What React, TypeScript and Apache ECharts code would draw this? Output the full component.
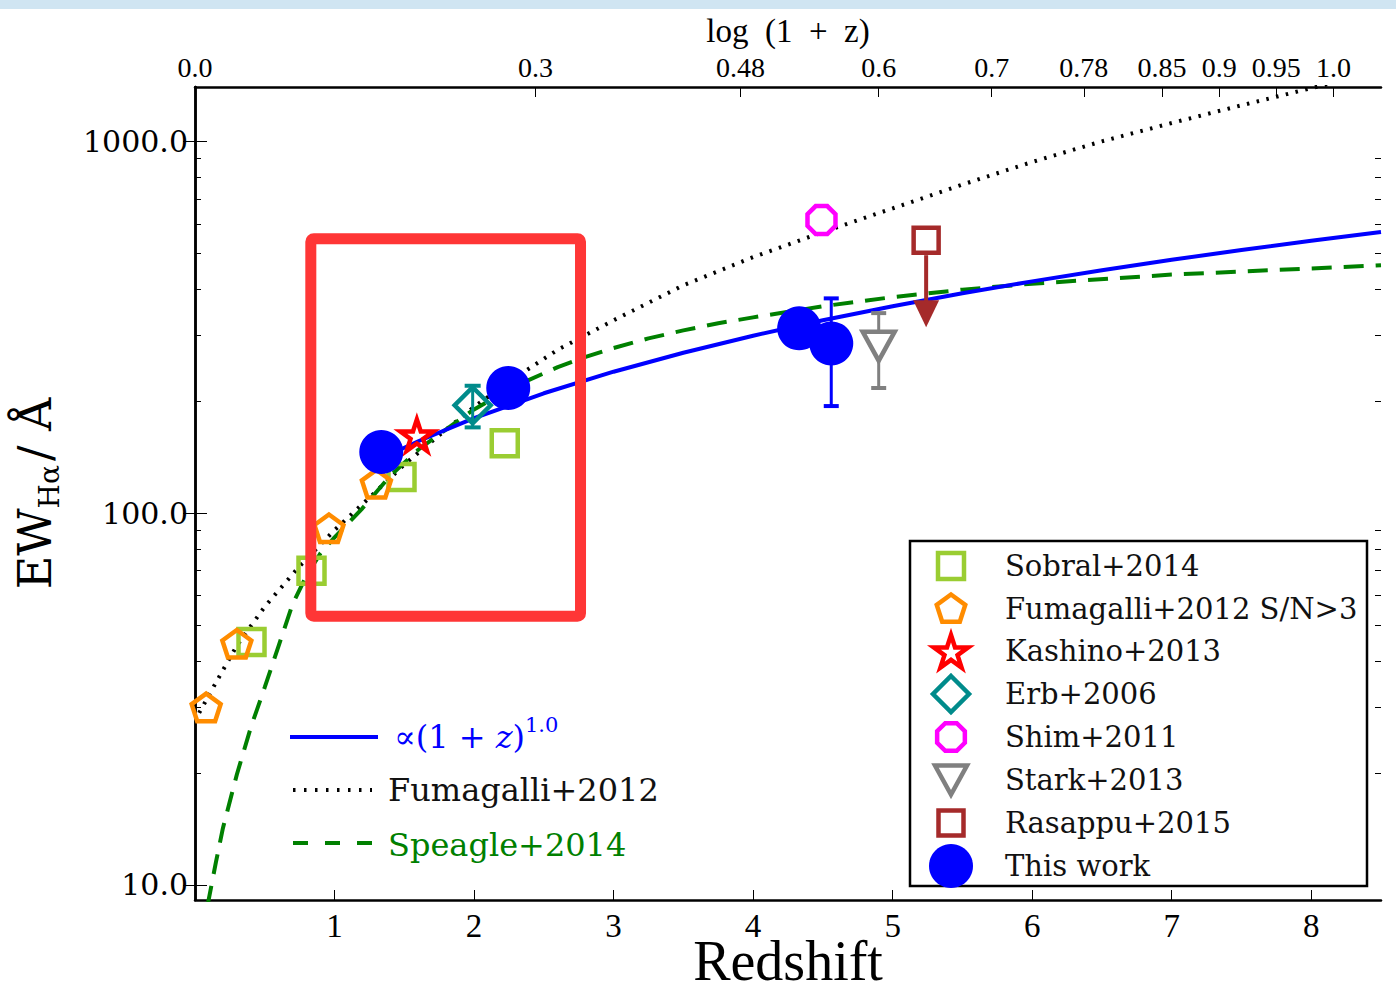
import React, { useEffect, useRef } from 'react';
import * as echarts from 'echarts';

const SERIF = '"DejaVu Serif", serif';
const NARROW = '"Liberation Serif", serif';

// ---- observations (redshift, EW in Angstrom) ----
const sobralZ = [0.405, 0.835, 1.48, 2.22];
const sobralEW = [45, 70, 125, 154];

const fumaZ = [0.08, 0.3, 0.96, 1.3];
const fumaEW = [30, 44.5, 91, 120];

const kashinoZ = [1.59];
const kashinoEW = [162];

const erbZ = [1.99];
const erbEW = [195];
const erbErr = [25];

const shimZ = [4.49];
const shimEW = [614];

const starkZ = [4.9];
const starkEW = [281];
const starkErr = [64];

const rasappuZ = [5.24];
const rasappuEW = [542];
const rasappuLimitTo = [316];

const thisZ = [1.335, 2.245, 4.33, 4.56];
const thisEW = [146, 217, 314, 286];
const thisErr = [null, null, null, 92];

// ---- model curves ----
const fitZ = [1.33, 1.6, 2, 2.5, 3, 3.5, 4, 4.5, 5, 5.5, 6, 6.5, 7, 7.5, 8, 8.5];
const fitEW = [140, 156, 180, 210, 240, 270, 300, 330, 360, 390, 420, 450, 480, 510, 540, 570];

const fumaCurveZ = [0.03, 0.15, 0.3, 0.5, 0.75, 1.0, 1.25, 1.5, 1.75, 2.0, 2.3, 2.6, 3.0, 3.5, 4.0, 4.5, 5.0, 5.5, 6.0, 6.5, 7.0, 7.5, 8.0, 8.5];
const fumaCurveEW = [29, 35, 44, 56, 72, 90, 110, 135, 162, 193, 232, 275, 330, 410, 488, 570, 660, 765, 880, 1000, 1120, 1250, 1390, 1540];

const speagleZ = [0.09, 0.15, 0.2, 0.3, 0.4, 0.5, 0.6, 0.7, 0.8, 0.9, 1.0, 1.1, 1.2, 1.4, 1.6, 1.8, 2.0, 2.3, 2.6, 2.8, 3.0, 3.25, 3.5, 3.75, 4.0, 4.5, 5.0, 5.5, 6.0, 7.0, 8.0, 8.5];
const speagleEW = [8.8, 11.5, 14.2, 19.8, 26.5, 34, 44, 57, 68, 78, 86, 94, 103, 126, 148, 168, 190, 220, 247, 263, 278, 295, 310, 324, 336, 360, 381, 399, 414, 438, 455, 464];

// highlighted region: [z0, EW top, z1, EW bottom]
const highlightBox = [0.83, 547, 2.763, 52.8];

// ---- axes ----
const bottomTicks = [1, 2, 3, 4, 5, 6, 7, 8];
const topTickZ = [0, 2.44, 3.91, 4.9, 5.71, 6.37, 6.93, 7.34, 7.75, 8.16];
const topTickLabels = ['0.0', '0.3', '0.48', '0.6', '0.7', '0.78', '0.85', '0.9', '0.95', '1.0'];
const yMajor = [10, 100, 1000];
const yMinor = [20, 30, 40, 50, 60, 70, 80, 90, 200, 300, 400, 500, 600, 700, 800, 900];
const Y_MIN = 9.1;
const Y_MAX = 1400;
const Z_MIN = 0;
const Z_MAX = 8.5;

// ---- colours ----
const C_SOBRAL = '#9ACD32';
const C_FUMA = '#FF8C00';
const C_KASHINO = '#FF0000';
const C_ERB = '#008B8B';
const C_SHIM = '#FF00FF';
const C_STARK = '#808080';
const C_RASAPPU = '#A52A2A';
const C_THIS = '#0000FF';
const C_SPEAGLE = '#008000';

// ---- marker outlines (unit coordinates) ----
const PENTAGON_PTS = [[0, -1], [0.951, -0.309], [0.588, 0.809], [-0.588, 0.809], [-0.951, -0.309]];
const STAR_PTS = [[0, -1], [0.2245, -0.309], [0.951, -0.309], [0.3633, 0.118], [0.5878, 0.809], [0, 0.382], [-0.5878, 0.809], [-0.3633, 0.118], [-0.951, -0.309], [-0.2245, -0.309]];
const OCTAGON_PTS = [[0.9239, 0.3827], [0.3827, 0.9239], [-0.3827, 0.9239], [-0.9239, 0.3827], [-0.9239, -0.3827], [-0.3827, -0.9239], [0.3827, -0.9239], [0.9239, -0.3827]];
const TRI_DOWN_PTS = [[-1, -1], [1, -1], [0, 1]];
const DIAMOND_PTS = [[0, -1], [1, 0], [0, 1], [-1, 0]];

const toPath = (pts: number[][]) =>
  'path://' + pts.map((p, i) => (i ? 'L' : 'M') + (p[0] * 100).toFixed(2) + ',' + (p[1] * 100).toFixed(2)).join('') + 'Z';

const zip = (xs: number[], ys: number[]) => xs.map((x, i) => [x, ys[i]]);

const hollow = (color: string, fill = 'rgba(0,0,0,0)') => ({ color: fill, borderColor: color, borderWidth: 4.5, opacity: 1 });

const errorBarRenderer = (color: string, cap: number) => (params: any, api: any) => {
  const z = api.value(0);
  const hi = api.coord([z, api.value(2)]);
  const lo = api.coord([z, api.value(1)]);
  const style = { stroke: color, lineWidth: 3 };
  const capStyle = { stroke: color, lineWidth: 4 };
  return {
    type: 'group',
    children: [
      { type: 'line', shape: { x1: hi[0], y1: hi[1], x2: lo[0], y2: lo[1] }, style },
      { type: 'line', shape: { x1: hi[0] - cap, y1: hi[1], x2: hi[0] + cap, y2: hi[1] }, style: capStyle },
      { type: 'line', shape: { x1: lo[0] - cap, y1: lo[1], x2: lo[0] + cap, y2: lo[1] }, style: capStyle },
    ],
  };
};

const arrowRenderer = (color: string) => (params: any, api: any) => {
  const z = api.value(0);
  const s = api.coord([z, api.value(1)]);
  const t = api.coord([z, api.value(2)]);
  return {
    type: 'group',
    children: [
      { type: 'line', shape: { x1: s[0], y1: s[1] + 15, x2: t[0], y2: t[1] - 24 }, style: { stroke: color, lineWidth: 4 } },
      { type: 'polygon', shape: { points: [[t[0] - 13, t[1] - 27], [t[0] + 13, t[1] - 27], [t[0], t[1]]] }, style: { fill: color } },
    ],
  };
};

const boxRenderer = (params: any, api: any) => {
  const a = api.coord([api.value(0), api.value(1)]);
  const b = api.coord([api.value(2), api.value(3)]);
  return {
    type: 'rect',
    shape: { x: a[0], y: a[1], width: b[0] - a[0], height: b[1] - a[1], r: 3 },
    style: { fill: 'none', stroke: '#FF3636', lineWidth: 11, lineJoin: 'round' },
  };
};

const isDecade = (v: number) => Math.abs(Math.log10(v) - Math.round(Math.log10(v))) < 1e-6;

const yAxisBase = {
  type: 'log',
  logBase: 10,
  min: Y_MIN,
  max: Y_MAX,
  splitLine: { show: false },
  minorTick: { show: false },
};

// ---- legend drawing helpers ----
const scalePts = (pts: number[][], cx: number, cy: number, rx: number, ry: number) =>
  pts.map((p) => [cx + p[0] * rx, cy + p[1] * ry]);

const KEY_X = 951;
const TEXT_X = 1005;
const ROW_Y = [566, 608.5, 651, 694, 737, 780, 823, 866];

const legendLabel = (text: string, y: number) => ({
  type: 'text',
  x: TEXT_X,
  y,
  z: 60,
  style: { text, fontFamily: SERIF, fontSize: 29, fill: '#111', align: 'left', verticalAlign: 'middle' },
});

const outlineStyle = (color: string) => ({ fill: 'none', stroke: color, lineWidth: 4.5 });

const buildLegendGraphics = () => {
  const els: any[] = [
    { type: 'rect', z: 55, shape: { x: 910, y: 541, width: 457, height: 345 }, style: { fill: '#fff', stroke: '#000', lineWidth: 2.5 } },
    { type: 'rect', z: 60, shape: { x: KEY_X - 13, y: ROW_Y[0] - 13, width: 26, height: 26 }, style: outlineStyle(C_SOBRAL) },
    { type: 'polygon', z: 60, shape: { points: scalePts(PENTAGON_PTS, KEY_X, ROW_Y[1] + 1, 15, 15) }, style: outlineStyle(C_FUMA) },
    { type: 'polygon', z: 60, shape: { points: scalePts(STAR_PTS, KEY_X, ROW_Y[2] + 2, 18, 18) }, style: outlineStyle(C_KASHINO) },
    { type: 'polygon', z: 60, shape: { points: scalePts(DIAMOND_PTS, KEY_X, ROW_Y[3], 18, 18) }, style: outlineStyle(C_ERB) },
    { type: 'polygon', z: 60, shape: { points: scalePts(OCTAGON_PTS, KEY_X, ROW_Y[4], 15, 15) }, style: outlineStyle(C_SHIM) },
    { type: 'polygon', z: 60, shape: { points: scalePts(TRI_DOWN_PTS, KEY_X, ROW_Y[5], 16, 14.5) }, style: outlineStyle(C_STARK) },
    { type: 'rect', z: 60, shape: { x: KEY_X - 12.5, y: ROW_Y[6] - 12.5, width: 25, height: 25 }, style: outlineStyle(C_RASAPPU) },
    { type: 'circle', z: 60, shape: { cx: KEY_X, cy: ROW_Y[7], r: 22 }, style: { fill: C_THIS } },
  ];
  const names = ['Sobral+2014', 'Fumagalli+2012 S/N>3', 'Kashino+2013', 'Erb+2006', 'Shim+2011', 'Stark+2013', 'Rasappu+2015', 'This work'];
  names.forEach((n, i) => els.push(legendLabel(n, ROW_Y[i])));

  // model-curve key
  els.push(
    { type: 'line', z: 60, shape: { x1: 290, y1: 737, x2: 378, y2: 737 }, style: { stroke: C_THIS, lineWidth: 4 } },
    {
      type: 'text',
      x: 394,
      y: 737,
      z: 60,
      style: {
        text: '{m|∝(1 + }{i|z}{m|)}{s|1.0}',
        align: 'left',
        verticalAlign: 'middle',
        rich: {
          m: { fontFamily: SERIF, fontSize: 32, lineHeight: 46, fill: C_THIS },
          i: { fontFamily: SERIF, fontStyle: 'italic', fontSize: 32, lineHeight: 46, fill: C_THIS },
          s: { fontFamily: SERIF, fontSize: 21, lineHeight: 18, verticalAlign: 'top', fill: C_THIS },
        },
      },
    },
    { type: 'line', z: 60, shape: { x1: 293, y1: 790, x2: 372, y2: 790 }, style: { stroke: '#000', lineWidth: 4, lineDash: [2.5, 8.5] } },
    { type: 'text', x: 388, y: 790, z: 60, style: { text: 'Fumagalli+2012', fontFamily: SERIF, fontSize: 32, fill: '#111', align: 'left', verticalAlign: 'middle' } },
    { type: 'line', z: 60, shape: { x1: 293, y1: 843, x2: 372, y2: 843 }, style: { stroke: C_SPEAGLE, lineWidth: 4, lineDash: [15, 17] } },
    { type: 'text', x: 388, y: 845, z: 60, style: { text: 'Speagle+2014', fontFamily: SERIF, fontSize: 32, fill: C_SPEAGLE, align: 'left', verticalAlign: 'middle' } }
  );
  return els;
};

const buildOption = () => {
  const thisErrRows = thisZ
    .map((z, i) => (thisErr[i] == null ? null : [z, thisEW[i] - (thisErr[i] as number), thisEW[i] + (thisErr[i] as number)]))
    .filter(Boolean);
  const starkErrRows = starkZ.map((z, i) => [z, starkEW[i] - starkErr[i], starkEW[i] + starkErr[i]]);
  const erbErrRows = erbZ.map((z, i) => [z, erbEW[i] - erbErr[i], erbEW[i] + erbErr[i]]);
  const rasappuRows = rasappuZ.map((z, i) => [z, rasappuEW[i], rasappuLimitTo[i]]);

  const curve = (name: string, zs: number[], ews: number[], lineStyle: any) => ({
    name,
    type: 'line',
    data: zip(zs, ews),
    showSymbol: false,
    symbol: 'none',
    smooth: false,
    lineStyle,
    z: 2,
  });

  return {
    animation: false,
    textStyle: { fontFamily: SERIF },
    grid: { left: 195, top: 87, width: 1186, height: 813, outerBoundsMode: 'none', containLabel: false },
    xAxis: [
      {
        type: 'value',
        position: 'bottom',
        min: Z_MIN,
        max: Z_MAX,
        splitLine: { show: false },
        axisLine: { onZero: false, lineStyle: { color: '#000', width: 2.5 } },
        axisTick: { inside: true, length: 10, customValues: bottomTicks, lineStyle: { color: '#000', width: 1 } },
        axisLabel: {
          customValues: bottomTicks,
          formatter: (v: number) => String(v),
          fontFamily: NARROW,
          fontSize: 33,
          color: '#000',
          margin: 9,
        },
        name: '{r|Redshift}',
        nameLocation: 'middle',
        nameGap: 41,
        nameMoveOverlap: false,
        nameTextStyle: {
          rich: { r: { fontFamily: NARROW, fontSize: 56, lineHeight: 40, color: '#000' } },
        },
      },
      {
        type: 'value',
        position: 'top',
        min: Z_MIN,
        max: Z_MAX,
        splitLine: { show: false },
        axisLine: { onZero: false, lineStyle: { color: '#000', width: 2.5 } },
        axisTick: { inside: true, length: 10, customValues: topTickZ, lineStyle: { color: '#000', width: 1 } },
        axisLabel: {
          customValues: topTickZ,
          interval: 0,
          hideOverlap: false,
          formatter: (v: number) => {
            const i = topTickZ.findIndex((t) => Math.abs(t - v) < 1e-6);
            return i >= 0 ? topTickLabels[i] : '';
          },
          fontFamily: NARROW,
          fontSize: 28,
          color: '#000',
          margin: 6,
        },
        name: 'log  (1  +  z)',
        nameLocation: 'middle',
        nameGap: 40,
        nameTextStyle: { fontFamily: NARROW, fontSize: 33, color: '#000' },
      },
    ],
    yAxis: [
      {
        ...yAxisBase,
        position: 'left',
        axisLine: { show: true, lineStyle: { color: '#000', width: 2.5 } },
        axisTick: { inside: true, length: 12, customValues: yMajor, lineStyle: { color: '#000', width: 1 } },
        axisLabel: {
          customValues: yMajor,
          formatter: (v: number) => (isDecade(v) ? Math.round(v).toFixed(1) : ''),
          fontFamily: SERIF,
          fontSize: 30,
          color: '#000',
          margin: 7,
        },
        name: '{a|EW}{b|Hα}{a|/ Å}',
        nameLocation: 'middle',
        nameRotate: 90,
        nameGap: 132,
        nameTextStyle: {
          rich: {
            a: { fontFamily: SERIF, fontSize: 46, lineHeight: 56, color: '#000' },
            b: { fontFamily: SERIF, fontSize: 28, lineHeight: 28, verticalAlign: 'bottom', color: '#000', padding: [0, 4, 0, 0] },
          },
        },
      },
      {
        ...yAxisBase,
        position: 'right',
        axisLine: { show: true, lineStyle: { color: '#000', width: 2.5 } },
        axisTick: { inside: true, length: 12, customValues: yMajor, lineStyle: { color: '#000', width: 1 } },
        axisLabel: { show: false },
      },
      {
        ...yAxisBase,
        position: 'left',
        axisLine: { show: false },
        axisTick: { inside: true, length: 6, customValues: yMinor, lineStyle: { color: '#000', width: 1 } },
        axisLabel: { show: false },
      },
      {
        ...yAxisBase,
        position: 'right',
        axisLine: { show: false },
        axisTick: { inside: true, length: 6, customValues: yMinor, lineStyle: { color: '#000', width: 1 } },
        axisLabel: { show: false },
      },
    ],
    graphic: buildLegendGraphics(),
    series: [
      curve('Fumagalli+2012', fumaCurveZ, fumaCurveEW, { color: '#000', width: 4, type: [2.5, 7.5] }),
      curve('Speagle+2014', speagleZ, speagleEW, { color: C_SPEAGLE, width: 4, type: [20, 12] }),
      curve('∝(1+z)^1.0', fitZ, fitEW, { color: C_THIS, width: 4 }),
      {
        name: 'this-err',
        type: 'custom',
        renderItem: errorBarRenderer(C_THIS, 7.5),
        data: thisErrRows,
        encode: { x: 0, y: [1, 2] },
        z: 3,
      },
      {
        name: 'stark-err',
        type: 'custom',
        renderItem: errorBarRenderer(C_STARK, 7.5),
        data: starkErrRows,
        encode: { x: 0, y: [1, 2] },
        z: 3,
      },
      {
        name: 'erb-err',
        type: 'custom',
        renderItem: errorBarRenderer(C_ERB, 8),
        data: erbErrRows,
        encode: { x: 0, y: [1, 2] },
        z: 3,
      },
      {
        name: 'rasappu-limit',
        type: 'custom',
        renderItem: arrowRenderer(C_RASAPPU),
        data: rasappuRows,
        encode: { x: 0, y: [1, 2] },
        z: 3,
      },
      {
        name: 'Sobral+2014',
        type: 'scatter',
        data: zip(sobralZ, sobralEW),
        symbol: 'rect',
        symbolSize: 26,
        itemStyle: hollow(C_SOBRAL),
        z: 4,
      },
      {
        name: 'Fumagalli+2012 S/N>3',
        type: 'scatter',
        data: zip(fumaZ, fumaEW),
        symbol: toPath(PENTAGON_PTS),
        symbolKeepAspect: true,
        symbolSize: 29,
        itemStyle: hollow(C_FUMA),
        z: 4,
      },
      {
        name: 'Kashino+2013',
        type: 'scatter',
        data: zip(kashinoZ, kashinoEW),
        symbol: toPath(STAR_PTS),
        symbolKeepAspect: true,
        symbolSize: 33,
        itemStyle: hollow(C_KASHINO),
        z: 4,
      },
      {
        name: 'Erb+2006',
        type: 'scatter',
        data: zip(erbZ, erbEW),
        symbol: 'diamond',
        symbolSize: 36,
        itemStyle: hollow(C_ERB),
        z: 4,
      },
      {
        name: 'Shim+2011',
        type: 'scatter',
        data: zip(shimZ, shimEW),
        symbol: toPath(OCTAGON_PTS),
        symbolKeepAspect: true,
        symbolSize: 28,
        itemStyle: hollow(C_SHIM, '#fff'),
        z: 4,
      },
      {
        name: 'Stark+2013',
        type: 'scatter',
        data: zip(starkZ, starkEW),
        symbol: toPath(TRI_DOWN_PTS),
        symbolSize: [32, 29],
        itemStyle: hollow(C_STARK, '#fff'),
        z: 4,
      },
      {
        name: 'Rasappu+2015',
        type: 'scatter',
        data: zip(rasappuZ, rasappuEW),
        symbol: 'rect',
        symbolSize: 25,
        itemStyle: hollow(C_RASAPPU, '#fff'),
        z: 4,
      },
      {
        name: 'This work',
        type: 'scatter',
        data: zip(thisZ, thisEW),
        symbol: 'circle',
        symbolSize: 44,
        itemStyle: { color: C_THIS, opacity: 1 },
        z: 5,
      },
      {
        name: 'highlight',
        type: 'custom',
        renderItem: boxRenderer,
        data: [highlightBox],
        encode: { x: [0, 2], y: [1, 3] },
        z: 10,
      },
    ],
  };
};

export default function App() {
  const ref = useRef<HTMLDivElement>(null);
  useEffect(() => {
    const chart = echarts.init(ref.current as HTMLDivElement, null, { renderer: 'svg' });
    chart.setOption(buildOption() as any);
    return () => chart.dispose();
  }, []);
  return (
    <div style={{ position: 'absolute', left: 0, top: 0, width: 1396, height: 992, background: '#fff', overflow: 'hidden' }}>
      <div style={{ position: 'absolute', left: 0, top: 0, width: 1396, height: 9, background: '#D0E5F2' }} />
      <div ref={ref} style={{ position: 'absolute', left: 0, top: 0, width: 1396, height: 992 }} />
    </div>
  );
}
